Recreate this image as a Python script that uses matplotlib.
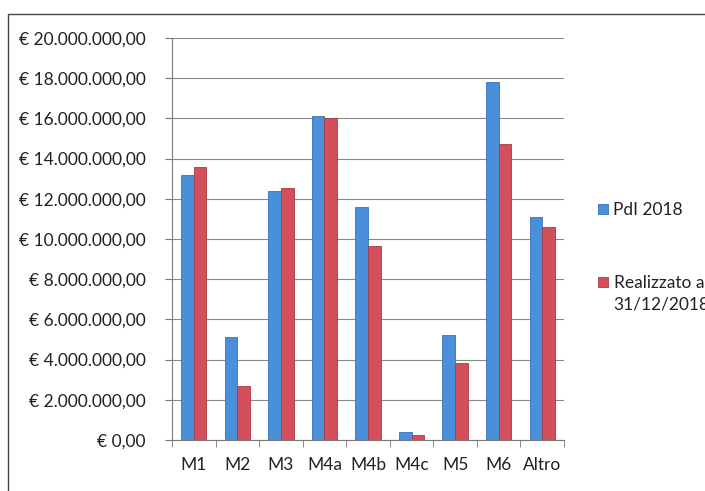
import matplotlib.pyplot as plt
import numpy as np
from matplotlib.patches import Rectangle

categorie = ["M1", "M2", "M3", "M4a", "M4b", "M4c", "M5", "M6", "Altro"]
pdl_2018 = [13180000, 5110000, 12400000, 16130000, 11600000, 400000, 5240000, 17800000, 11110000]
realizzato = [13600000, 2700000, 12520000, 16000000, 9650000, 250000, 3820000, 14710000, 10580000]
serie = ["PdI 2018", "Realizzato al\n31/12/2018"]
y_ticks = list(range(0, 20000001, 2000000))

plt.rcParams['font.family'] = ['Lato', 'DejaVu Sans']

blu = '#4A8FDA'
rosso = '#D44F5C'

def euro(v):
    s = f"{v:,.2f}"
    s = s.replace(",", "X").replace(".", ",").replace("X", ".")
    return "€ " + s

fig = plt.figure(figsize=(7.05, 4.91), dpi=100)
ax = fig.add_axes([172 / 705, 1 - 440 / 491, (564 - 172) / 705, (440 - 38) / 491])

x = np.arange(len(categorie))
w = 0.29
ax.bar(x - w / 2, pdl_2018, w, color=blu, edgecolor='#3A70B8', linewidth=0.6)
ax.bar(x + w / 2, realizzato, w, color=rosso, edgecolor='#A83A46', linewidth=0.6)

ax.set_xlim(-0.5, len(categorie) - 0.5)
ax.set_ylim(0, 20000000)
ax.set_yticks(y_ticks)
ax.set_yticklabels([euro(v) for v in y_ticks], fontsize=12.5, color='#222222')
ax.set_xticks(x)
ax.set_xticklabels(categorie, fontsize=12.5, color='#222222')
ax.set_xticks(np.arange(-0.5, len(categorie)), minor=True)
ax.tick_params(axis='x', which='major', length=0, pad=12)
ax.tick_params(axis='x', which='minor', length=5, color='#777777', direction='out')
ax.tick_params(axis='y', length=5, color='#777777', pad=14)

ax.yaxis.grid(True, color='#888888', linewidth=0.8)
ax.set_axisbelow(True)
for side in ['top', 'right']:
    ax.spines[side].set_visible(False)
ax.spines['left'].set_color('#777777')
ax.spines['bottom'].set_color('#777777')

# legend on the right: square marker beside the first line of each label
def fx(px):
    return px / 705

def fy(py):
    return 1 - py / 491

for nome, col, edge, yc in [(serie[0], blu, '#3A70B8', 209), (serie[1], rosso, '#A83A46', 282)]:
    fig.patches.append(Rectangle((fx(598), fy(yc + 5)), 10 / 705, 10 / 491, transform=fig.transFigure,
                                 facecolor=col, edgecolor=edge, linewidth=0.6))
    fig.text(fx(613), fy(yc - 7), nome, fontsize=12.5, color='#222222', va='top', ha='left',
             multialignment='center', linespacing=1.4)

# outer chart frame
fig.patches.append(Rectangle((8 / 705, -0.05), 1.1, 1 - 14 / 491 + 0.05, transform=fig.transFigure,
                             fill=False, edgecolor='#444444', linewidth=1.0))

fig.savefig('out.png', dpi=100)
